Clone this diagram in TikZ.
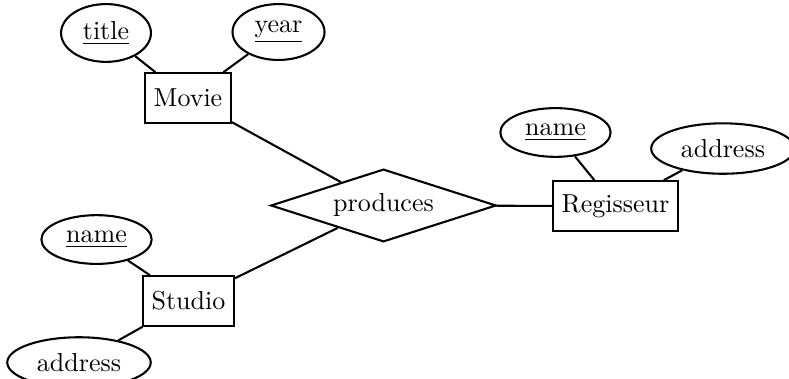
\documentclass[tikz,border=0pt]{standalone}
\usetikzlibrary{shapes.geometric}
\tikzset{entity/.style={draw, rectangle, minimum height=6.7mm},
         attr/.style={draw, ellipse},
         relation/.style={draw, diamond, aspect=3.1, inner sep=2.5pt}}

\begin{document}
\begin{tikzpicture}[thick]
    \useasboundingbox (0,0) rectangle (10.666,5.110);
    % Entities and relationship
    \node[entity] (movie) at (2.541,3.785) {Movie};
    \node[entity] (studio) at (2.548,1.041) {Studio};
    \node[entity] (regisseur) at (8.320,2.325) {Regisseur};
    \node[relation] (produces) at (5.184,2.332) {produces};

    % Attributes
    \node[attr] (title) at (1.433,4.664) {\underline{title}};
    \node[attr] (year) at (3.765,4.677) {\underline{year}};
    \node[attr] (rname) at (7.509,3.319) {\underline{name}};
    \node[attr] (raddress) at (9.773,3.102) {address};
    \node[attr] (sname) at (1.305,1.872) {\underline{name}};
    \node[attr] (saddress) at (1.068,0.210) {address};

    % Connections
    \draw (title) -- (movie);
    \draw (year) -- (movie);
    \draw (movie) -- (produces);
    \draw (studio) -- (produces);
    \draw (produces) -- (regisseur);
    \draw (rname) -- (regisseur);
    \draw (raddress) -- (regisseur);
    \draw (sname) -- (studio);
    \draw (saddress) -- (studio);
\end{tikzpicture}
\end{document}
